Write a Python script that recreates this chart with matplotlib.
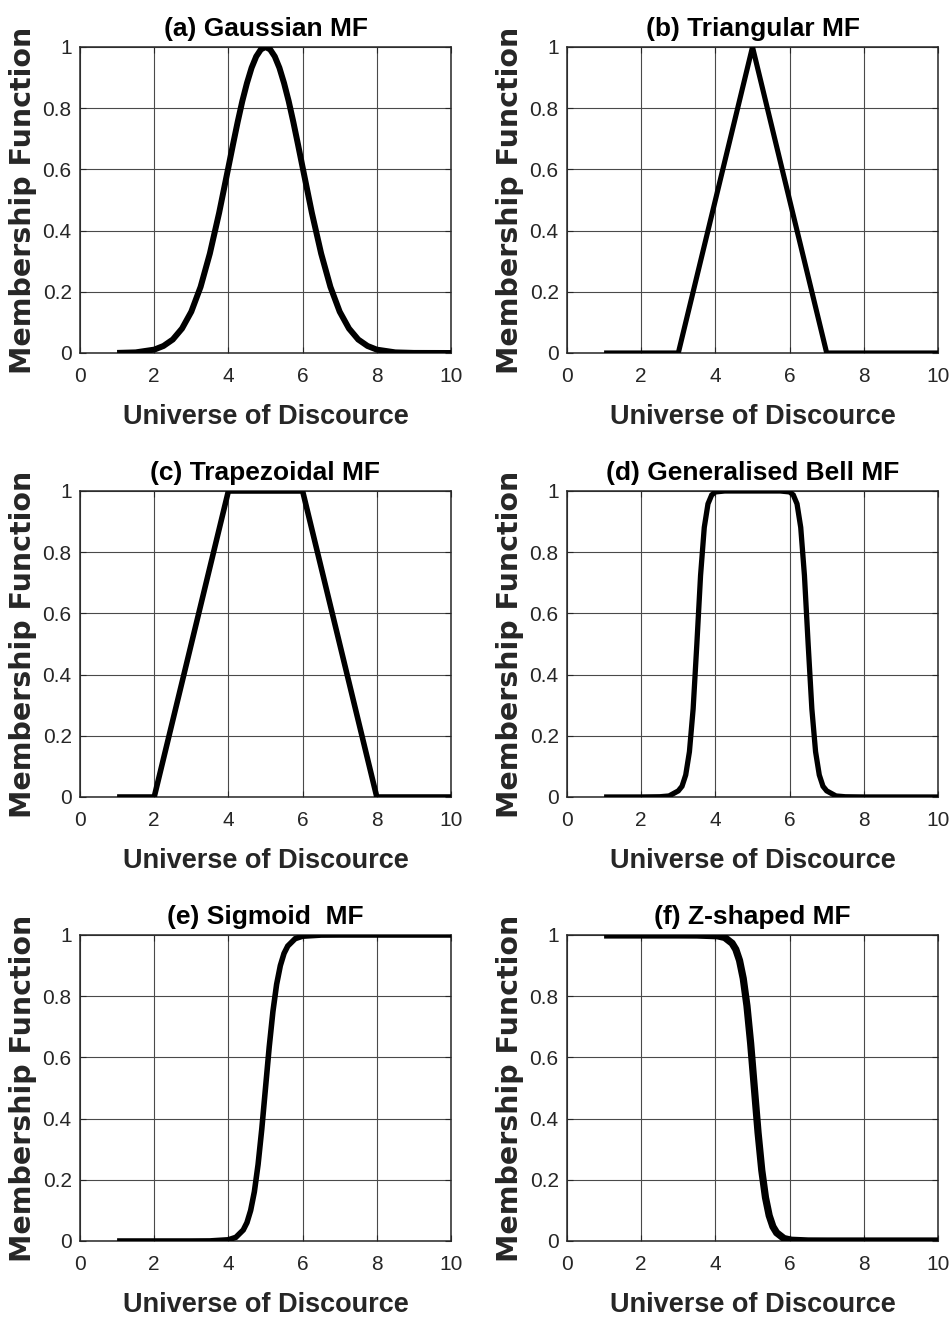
import matplotlib
matplotlib.use('Agg')
import matplotlib.pyplot as plt

# Данные
gauss_x = [1, 1.5, 2, 2.25, 2.5, 2.75, 3, 3.25, 3.5, 3.75, 4, 4.125, 4.25, 4.375, 4.5, 4.625,
           4.75, 4.875, 5, 5.125, 5.25, 5.375, 5.5, 5.625, 5.75, 5.875, 6, 6.25, 6.5, 6.75,
           7, 7.25, 7.5, 7.75, 8, 8.5, 9, 10]
gauss_y = [0.0003, 0.002, 0.011, 0.023, 0.044, 0.080, 0.135, 0.216, 0.325, 0.458, 0.607, 0.682,
           0.755, 0.823, 0.882, 0.932, 0.969, 0.992, 1.0, 0.992, 0.969, 0.932, 0.882, 0.823,
           0.755, 0.682, 0.607, 0.458, 0.325, 0.216, 0.135, 0.080, 0.044, 0.023, 0.011,
           0.002, 0.0003, 0.0]

tri_x = [1, 3, 5, 7, 10]
tri_y = [0, 0, 1, 0, 0]

trap_x = [1, 2, 4, 6, 8, 10]
trap_y = [0, 0, 1, 1, 0, 0]

bell_x = [1, 2, 2.5, 2.75, 3, 3.1, 3.2, 3.3, 3.4, 3.5, 3.6, 3.7, 3.8, 3.9, 4, 4.25,
          5, 5.75, 6, 6.1, 6.2, 6.3, 6.4, 6.5, 6.6, 6.7, 6.8, 6.9, 7, 7.25, 7.5, 8, 10]
bell_y = [0, 0.0001, 0.0008, 0.0034, 0.020, 0.035, 0.072, 0.148, 0.288, 0.5, 0.724, 0.881,
          0.958, 0.987, 0.997, 1.0, 1.0, 1.0, 0.997, 0.987, 0.958, 0.881, 0.724, 0.5, 0.288,
          0.148, 0.072, 0.035, 0.020, 0.0034, 0.0008, 0.0001, 0]

sig_x = [1, 3, 3.5, 4, 4.2, 4.4, 4.5, 4.6, 4.7, 4.8, 4.9, 5.0, 5.1, 5.2, 5.3, 5.4, 5.5,
         5.6, 5.8, 6, 6.5, 7, 10]
sig_y = [0, 0, 0.0003, 0.004, 0.012, 0.036, 0.060, 0.100, 0.161, 0.250, 0.366, 0.5, 0.634,
         0.750, 0.839, 0.900, 0.940, 0.964, 0.988, 0.996, 0.9997, 1.0, 1.0]

z_x = [1, 3, 3.5, 4.05, 4.25, 4.45, 4.55, 4.65, 4.75, 4.85, 4.95, 5.05, 5.15, 5.25, 5.35,
       5.45, 5.55, 5.65, 5.85, 6.05, 6.5, 7, 10]
z_y = [1, 1, 0.9998, 0.9975, 0.992, 0.973, 0.953, 0.917, 0.858, 0.769, 0.646, 0.5, 0.354,
       0.231, 0.142, 0.083, 0.047, 0.027, 0.008, 0.0025, 0.0002, 0, 0]

titles = ['(a) Gaussian MF', '(b) Triangular MF', '(c) Trapezoidal MF',
          '(d) Generalised Bell MF', '(e) Sigmoid  MF', '(f) Z-shaped MF']
curves = [(gauss_x, gauss_y), (tri_x, tri_y), (trap_x, trap_y),
          (bell_x, bell_y), (sig_x, sig_y), (z_x, z_y)]
widths = [4.3, 3.7, 4.0, 3.8, 4.0, 5.2]

arial = ['Liberation Sans', 'DejaVu Sans']

fig = plt.figure(figsize=(9.53, 13.23), dpi=100)

lefts = [80 / 953, 567 / 953]
bottoms = [1 - 353 / 1323, 1 - 797 / 1323, 1 - 1241 / 1323]
w = 371 / 953
h = 306 / 1323

for i, (title, (xs, ys), lw) in enumerate(zip(titles, curves, widths)):
    ax = fig.add_axes([lefts[i % 2], bottoms[i // 2], w, h])
    ax.plot(xs, ys, color='black', linewidth=lw, solid_capstyle='butt',
            solid_joinstyle='miter', zorder=3)
    ax.set_xlim(0, 10)
    ax.set_ylim(0, 1)
    ax.set_xticks([0, 2, 4, 6, 8, 10])
    ax.set_yticks([0, 0.2, 0.4, 0.6, 0.8, 1])
    ax.set_yticklabels(['0', '0.2', '0.4', '0.6', '0.8', '1'])
    ax.grid(True, color='#4a4a4a', linewidth=0.8)
    for s in ax.spines.values():
        s.set_color('#262626')
        s.set_linewidth(1.1)
    ax.tick_params(direction='in', length=4, width=0.8, color='#262626',
                   top=True, right=True, labelsize=15, labelcolor='#262626')
    ax.tick_params(axis='x', pad=10)
    ax.tick_params(axis='y', pad=6)
    for lab in ax.get_xticklabels() + ax.get_yticklabels():
        lab.set_family(arial)
    ax.set_title(title, family=arial, fontweight='bold', fontsize=19, pad=8)
    ax.set_xlabel('Universe of Discource', family=arial, fontweight='bold',
                  fontsize=19.5, color='#262626', labelpad=13)
    ax.set_ylabel('Membership Function', family='DejaVu Sans', fontweight='bold',
                  fontsize=20.5, color='#262626')
    ax.yaxis.set_label_coords(-0.115, 0.5)

fig.savefig('out.png', dpi=100)
